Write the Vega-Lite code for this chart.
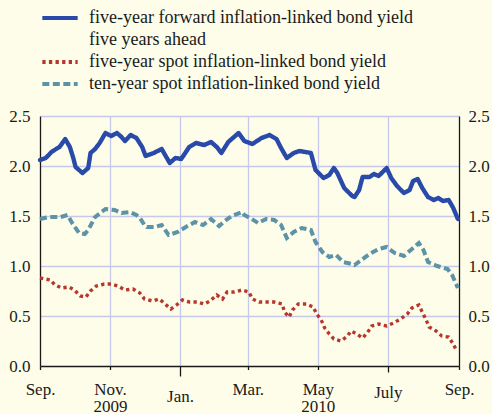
{
"$schema": "https://vega.github.io/schema/vega-lite/v6.json",
"width": 419, "height": 250,
"autosize": "none",
"padding": {"left": 40, "top": 116, "right": 33, "bottom": 48},
"background": "#fdfde9",
"config": {
  "view": {"stroke": null},
  "font": "Times New Roman, Liberation Serif, serif",
  "axis": {"labelFont": "Times New Roman, Liberation Serif, serif", "labelFontSize": 17, "labelColor": "#1a1a1a", "domainColor": "#1a1a1a", "domainWidth": 1.3, "tickColor": "#1a1a1a", "tickWidth": 1.3, "gridColor": "#c6c9ea", "gridWidth": 1.3, "title": null},
  "legend": {"labelFont": "Times New Roman, Liberation Serif, serif", "labelFontSize": 18, "labelColor": "#1a1a1a"}
},
"datasets": {
"fwd": [
{"d":"2009-09-01","v":2.06},{"d":"2009-09-06","v":2.08},{"d":"2009-09-11","v":2.14},{"d":"2009-09-15","v":2.17},{"d":"2009-09-18","v":2.19},{"d":"2009-09-23","v":2.27},{"d":"2009-09-27","v":2.19},{"d":"2009-09-30","v":2.08},{"d":"2009-10-02","v":1.99},{"d":"2009-10-08","v":1.93},{"d":"2009-10-13","v":1.98},{"d":"2009-10-15","v":2.13},{"d":"2009-10-19","v":2.17},{"d":"2009-10-23","v":2.23},{"d":"2009-10-28","v":2.33},{"d":"2009-11-02","v":2.30},{"d":"2009-11-07","v":2.33},{"d":"2009-11-11","v":2.29},{"d":"2009-11-14","v":2.25},{"d":"2009-11-19","v":2.31},{"d":"2009-11-24","v":2.28},{"d":"2009-11-29","v":2.19},{"d":"2009-12-02","v":2.10},{"d":"2009-12-09","v":2.13},{"d":"2009-12-16","v":2.17},{"d":"2009-12-23","v":2.03},{"d":"2009-12-28","v":2.08},{"d":"2010-01-02","v":2.07},{"d":"2010-01-09","v":2.19},{"d":"2010-01-15","v":2.23},{"d":"2010-01-22","v":2.21},{"d":"2010-01-28","v":2.24},{"d":"2010-02-02","v":2.19},{"d":"2010-02-06","v":2.13},{"d":"2010-02-12","v":2.24},{"d":"2010-02-21","v":2.33},{"d":"2010-02-26","v":2.25},{"d":"2010-03-05","v":2.22},{"d":"2010-03-13","v":2.28},{"d":"2010-03-20","v":2.31},{"d":"2010-03-26","v":2.27},{"d":"2010-03-30","v":2.18},{"d":"2010-04-04","v":2.08},{"d":"2010-04-10","v":2.13},{"d":"2010-04-15","v":2.15},{"d":"2010-04-25","v":2.13},{"d":"2010-04-29","v":1.96},{"d":"2010-05-06","v":1.88},{"d":"2010-05-11","v":1.91},{"d":"2010-05-15","v":1.98},{"d":"2010-05-18","v":1.93},{"d":"2010-05-24","v":1.78},{"d":"2010-05-31","v":1.70},{"d":"2010-06-02","v":1.69},{"d":"2010-06-06","v":1.76},{"d":"2010-06-09","v":1.89},{"d":"2010-06-15","v":1.89},{"d":"2010-06-19","v":1.92},{"d":"2010-06-23","v":1.90},{"d":"2010-06-30","v":1.98},{"d":"2010-07-04","v":1.88},{"d":"2010-07-09","v":1.80},{"d":"2010-07-15","v":1.73},{"d":"2010-07-20","v":1.76},{"d":"2010-07-23","v":1.85},{"d":"2010-07-27","v":1.87},{"d":"2010-07-31","v":1.78},{"d":"2010-08-05","v":1.69},{"d":"2010-08-10","v":1.66},{"d":"2010-08-14","v":1.68},{"d":"2010-08-18","v":1.65},{"d":"2010-08-23","v":1.66},{"d":"2010-08-27","v":1.58},{"d":"2010-08-31","v":1.47}
],
"spot10": [
{"d":"2009-09-01","v":1.47},{"d":"2009-09-09","v":1.49},{"d":"2009-09-19","v":1.49},{"d":"2009-09-25","v":1.51},{"d":"2009-09-29","v":1.43},{"d":"2009-10-05","v":1.33},{"d":"2009-10-10","v":1.32},{"d":"2009-10-13","v":1.36},{"d":"2009-10-19","v":1.49},{"d":"2009-10-28","v":1.57},{"d":"2009-11-05","v":1.56},{"d":"2009-11-11","v":1.53},{"d":"2009-11-18","v":1.54},{"d":"2009-11-24","v":1.51},{"d":"2009-11-27","v":1.48},{"d":"2009-12-01","v":1.41},{"d":"2009-12-03","v":1.39},{"d":"2009-12-10","v":1.39},{"d":"2009-12-16","v":1.41},{"d":"2009-12-22","v":1.31},{"d":"2009-12-30","v":1.34},{"d":"2010-01-06","v":1.39},{"d":"2010-01-14","v":1.44},{"d":"2010-01-21","v":1.41},{"d":"2010-01-28","v":1.47},{"d":"2010-02-04","v":1.40},{"d":"2010-02-09","v":1.45},{"d":"2010-02-15","v":1.50},{"d":"2010-02-24","v":1.54},{"d":"2010-02-26","v":1.51},{"d":"2010-03-03","v":1.48},{"d":"2010-03-10","v":1.43},{"d":"2010-03-17","v":1.47},{"d":"2010-03-24","v":1.46},{"d":"2010-03-30","v":1.41},{"d":"2010-04-04","v":1.28},{"d":"2010-04-10","v":1.34},{"d":"2010-04-17","v":1.38},{"d":"2010-04-25","v":1.36},{"d":"2010-04-29","v":1.24},{"d":"2010-05-05","v":1.14},{"d":"2010-05-11","v":1.09},{"d":"2010-05-17","v":1.11},{"d":"2010-05-23","v":1.04},{"d":"2010-05-31","v":1.02},{"d":"2010-06-02","v":1.01},{"d":"2010-06-08","v":1.06},{"d":"2010-06-15","v":1.12},{"d":"2010-06-23","v":1.17},{"d":"2010-06-30","v":1.19},{"d":"2010-07-07","v":1.13},{"d":"2010-07-15","v":1.10},{"d":"2010-07-21","v":1.16},{"d":"2010-07-28","v":1.23},{"d":"2010-08-01","v":1.16},{"d":"2010-08-05","v":1.04},{"d":"2010-08-13","v":1.00},{"d":"2010-08-22","v":0.97},{"d":"2010-08-26","v":0.91},{"d":"2010-08-31","v":0.78}
],
"spot5": [
{"d":"2009-09-01","v":0.88},{"d":"2009-09-10","v":0.86},{"d":"2009-09-14","v":0.81},{"d":"2009-09-20","v":0.78},{"d":"2009-09-26","v":0.79},{"d":"2009-10-01","v":0.76},{"d":"2009-10-06","v":0.70},{"d":"2009-10-11","v":0.69},{"d":"2009-10-15","v":0.75},{"d":"2009-10-20","v":0.80},{"d":"2009-10-27","v":0.82},{"d":"2009-11-02","v":0.82},{"d":"2009-11-08","v":0.80},{"d":"2009-11-14","v":0.76},{"d":"2009-11-21","v":0.77},{"d":"2009-11-27","v":0.73},{"d":"2009-12-01","v":0.67},{"d":"2009-12-08","v":0.65},{"d":"2009-12-14","v":0.67},{"d":"2009-12-18","v":0.63},{"d":"2009-12-24","v":0.57},{"d":"2009-12-29","v":0.61},{"d":"2010-01-03","v":0.66},{"d":"2010-01-09","v":0.64},{"d":"2010-01-16","v":0.64},{"d":"2010-01-22","v":0.62},{"d":"2010-01-27","v":0.65},{"d":"2010-02-02","v":0.71},{"d":"2010-02-07","v":0.67},{"d":"2010-02-11","v":0.74},{"d":"2010-02-17","v":0.74},{"d":"2010-02-24","v":0.76},{"d":"2010-03-02","v":0.74},{"d":"2010-03-05","v":0.67},{"d":"2010-03-11","v":0.64},{"d":"2010-03-18","v":0.64},{"d":"2010-03-24","v":0.64},{"d":"2010-03-31","v":0.62},{"d":"2010-04-02","v":0.54},{"d":"2010-04-06","v":0.49},{"d":"2010-04-09","v":0.56},{"d":"2010-04-14","v":0.62},{"d":"2010-04-21","v":0.62},{"d":"2010-04-27","v":0.59},{"d":"2010-04-30","v":0.52},{"d":"2010-05-04","v":0.46},{"d":"2010-05-07","v":0.38},{"d":"2010-05-11","v":0.32},{"d":"2010-05-15","v":0.27},{"d":"2010-05-21","v":0.25},{"d":"2010-05-26","v":0.29},{"d":"2010-05-30","v":0.35},{"d":"2010-06-04","v":0.32},{"d":"2010-06-09","v":0.28},{"d":"2010-06-13","v":0.33},{"d":"2010-06-17","v":0.40},{"d":"2010-06-23","v":0.42},{"d":"2010-06-30","v":0.40},{"d":"2010-07-06","v":0.43},{"d":"2010-07-12","v":0.47},{"d":"2010-07-18","v":0.52},{"d":"2010-07-22","v":0.58},{"d":"2010-07-28","v":0.61},{"d":"2010-07-31","v":0.54},{"d":"2010-08-03","v":0.47},{"d":"2010-08-06","v":0.39},{"d":"2010-08-12","v":0.35},{"d":"2010-08-17","v":0.30},{"d":"2010-08-23","v":0.29},{"d":"2010-08-27","v":0.22},{"d":"2010-08-30","v":0.15}
]
},
"data": {"name": "fwd"},
"layer": [
  {
    "layer": [
      {"data": {"name": "spot5"}, "transform": [{"calculate": "'spot5'", "as": "s"}], "mark": {"type": "line", "strokeCap": "butt", "strokeWidth": 3.4}},
      {"data": {"name": "spot10"}, "transform": [{"calculate": "'spot10'", "as": "s"}], "mark": {"type": "line", "strokeCap": "butt", "strokeWidth": 4}},
      {"data": {"name": "fwd"}, "transform": [{"calculate": "'fwd'", "as": "s"}], "mark": {"type": "line", "strokeCap": "round", "strokeJoin": "round", "strokeWidth": 4.4}}
    ],
    "encoding": {
      "x": {"field": "d", "type": "temporal",
        "scale": {"type": "utc", "domain": [{"year": 2009, "month": 9, "date": 1, "utc": true}, {"year": 2010, "month": 9, "date": 1, "utc": true}]},
        "axis": {
          "values": [{"year": 2009, "month": 9, "date": 1, "utc": true}, {"year": 2009, "month": 11, "date": 1, "utc": true}, {"year": 2010, "month": 1, "date": 1, "utc": true}, {"year": 2010, "month": 3, "date": 1, "utc": true}, {"year": 2010, "month": 5, "date": 1, "utc": true}, {"year": 2010, "month": 7, "date": 1, "utc": true}, {"year": 2010, "month": 9, "date": 1, "utc": true}],
          "labelExpr": "utcmonth(datum.value)==8?'Sep.':utcmonth(datum.value)==10?['Nov.','2009']:utcmonth(datum.value)==0?'Jan.':utcmonth(datum.value)==2?'Mar.':utcmonth(datum.value)==4?['May','2010']:'July'",
          "labelLineHeight": 17,
          "labelPadding": 12,
          "labelFlush": false,
          "labelOverlap": false,
          "tickSize": {"condition": [{"test": "utcmonth(datum.value)==0", "value": 10}, {"test": "utcmonth(datum.value)==6", "value": 6}], "value": 3.5},
          "grid": true,
          "gridOpacity": {"condition": {"test": "utcmonth(datum.value)==8", "value": 0}, "value": 1}
        }},
      "y": {"field": "v", "type": "quantitative",
        "scale": {"domain": [0, 2.5], "nice": false},
        "axis": {"values": [0, 0.5, 1, 1.5, 2, 2.5], "format": ".1f", "ticks": false, "labelPadding": 10, "grid": true,
          "gridOpacity": {"condition": {"test": "datum.value==0", "value": 0}, "value": 1}}},
      "color": {"field": "s", "type": "nominal",
        "scale": {"domain": ["fwd", "ahead", "spot5", "spot10"], "range": ["#2a4aaa", "#fdfde9", "#b8372d", "#5d93a6"]},
        "legend": {
          "orient": "none", "legendX": 0, "legendY": -107, "title": null, "direction": "vertical",
          "padding": 0, "symbolType": "stroke", "symbolSize": 1250, "symbolStrokeWidth": 4,
          "labelFont": "Times New Roman, Liberation Serif, serif", "labelFontSize": 18, "labelColor": "#1a1a1a", "labelLimit": 500,
          "labelOffset": 9, "rowPadding": 4, "clipHeight": 18,
          "labelExpr": "datum.label=='fwd'?'five-year forward inflation-linked bond yield':datum.label=='ahead'?'five years ahead':datum.label=='spot5'?'five-year spot inflation-linked bond yield':'ten-year spot inflation-linked bond yield'",
          "symbolOpacity": 1
        }},
      "strokeDash": {"field": "s", "type": "nominal",
        "scale": {"domain": ["fwd", "ahead", "spot5", "spot10"], "range": [[1, 0], [1, 0], [3.3, 3.3], [7, 3.5]]}}
    }
  },
  {
    "data": {"name": "fwd"},
    "mark": {"type": "point", "opacity": 0},
    "encoding": {
      "y": {"field": "v", "type": "quantitative",
        "axis": {"orient": "right", "values": [0, 0.5, 1, 1.5, 2, 2.5], "format": ".1f", "ticks": false, "labelPadding": 9, "grid": false}}
    }
  }
],
"resolve": {"axis": {"y": "independent"}}
}
